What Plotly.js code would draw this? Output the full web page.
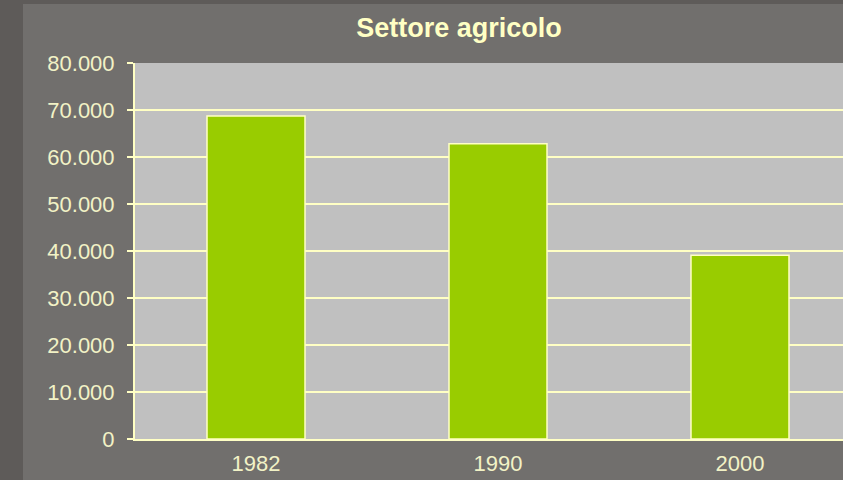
<!DOCTYPE html>
<html><head><meta charset="utf-8">
<script src="https://cdn.plot.ly/plotly-3.0.1.min.js"></script>
<style>
html,body{margin:0;padding:0;width:843px;height:480px;overflow:hidden;background:#5e5b59;}
#wrap{position:absolute;left:23px;top:4px;width:820px;height:476px;overflow:hidden;}
#chart{position:absolute;left:0;top:0;width:850px;height:476px;}
</style></head>
<body><div id="wrap"><div id="chart"></div></div>
<script>
const categories = ['1982', '1990', '2000'];
const values = [68700, 62800, 39100];
const yTicks = [0, 10000, 20000, 30000, 40000, 50000, 60000, 70000, 80000];
const titleText = 'Settore agricolo';

const cream = '#ffffc4';
const textCol = '#f2f2c6';
const fam = 'Liberation Sans, Arial, sans-serif';

Plotly.newPlot('chart', [{
  type: 'bar',
  x: categories,
  y: values,
  marker: {color: '#99cc00', line: {color: cream, width: 1.5}},
  hoverinfo: 'skip'
}], {
  width: 850, height: 476,
  separators: ',.',
  paper_bgcolor: '#716f6d',
  plot_bgcolor: '#c0c0c0',
  margin: {l: 112, r: 12, t: 59, b: 41},
  bargap: 0.595,
  showlegend: false,
  title: {text: '<b>' + titleText + '</b>', x: 0.513, xanchor: 'center', y: 0.95, yanchor: 'middle',
          xref: 'container', font: {family: fam, size: 27, color: cream}},
  xaxis: {
    type: 'category',
    tickfont: {family: fam, size: 22, color: textCol},
    showline: true, linecolor: cream, linewidth: 2,
    ticks: '', showgrid: false, ticklabelstandoff: 4
  },
  yaxis: {
    range: [0, 80000],
    tickvals: yTicks,
    tickformat: ',d',
    tickfont: {family: fam, size: 22, color: textCol},
    showline: true, linecolor: cream, linewidth: 2,
    ticks: 'outside', ticklen: 6, tickwidth: 2, tickcolor: cream,
    gridcolor: cream, gridwidth: 2,
    zeroline: false, ticklabelstandoff: 8
  }
}, {displayModeBar: false, staticPlot: true});
</script></body></html>
